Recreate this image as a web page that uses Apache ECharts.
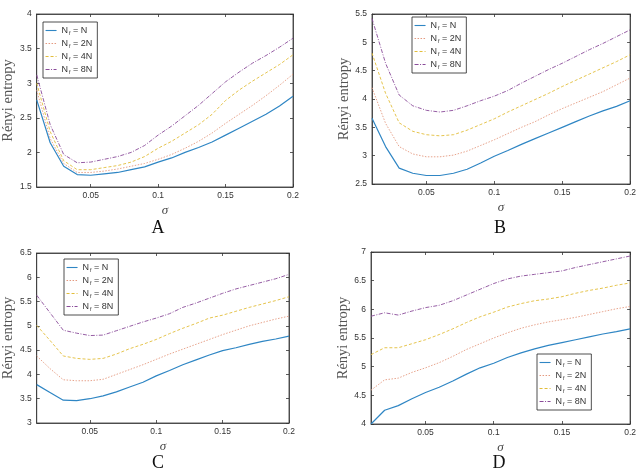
<!doctype html>
<html lang="en">
<head>
<meta charset="UTF-8">
<script src="https://cdn.jsdelivr.net/npm/echarts@6/dist/echarts.min.js"></script>
<title>Rényi entropy</title>
<style>
  html, body { margin: 0; padding: 0; background: #fff; }
  #main { width: 639px; height: 473px; }
</style>
</head>
<body>
<div id="main"></div>
<script>
// sigma values (x axis)
var sigma = [0.01, 0.02, 0.03, 0.04, 0.05, 0.06, 0.07, 0.08, 0.09, 0.10,
             0.11, 0.12, 0.13, 0.14, 0.15, 0.16, 0.17, 0.18, 0.19, 0.20];
var seriesNames = ['N_f = N', 'N_f = 2N', 'N_f = 4N', 'N_f = 8N'];
var panelLetters = ['A', 'B', 'C', 'D'];
var xTicks = [0.05, 0.1, 0.15, 0.2];

// panel A
var a_N  = [2.76, 2.14, 1.80, 1.68, 1.67, 1.69, 1.71, 1.75, 1.79, 1.86, 1.92, 2.00, 2.07, 2.15, 2.25, 2.35, 2.45, 2.55, 2.67, 2.81];
var a_2N = [2.90, 2.20, 1.84, 1.71, 1.71, 1.73, 1.76, 1.80, 1.84, 1.90, 1.97, 2.06, 2.16, 2.28, 2.42, 2.55, 2.68, 2.82, 2.97, 3.13];
var a_4N = [3.00, 2.30, 1.88, 1.75, 1.75, 1.78, 1.81, 1.86, 1.94, 2.06, 2.16, 2.28, 2.40, 2.55, 2.75, 2.90, 3.03, 3.15, 3.27, 3.41];
var a_8N = [3.12, 2.40, 1.97, 1.85, 1.86, 1.90, 1.94, 2.00, 2.10, 2.25, 2.38, 2.53, 2.68, 2.85, 3.02, 3.16, 3.29, 3.40, 3.52, 3.65];
// panel B
var b_N  = [3.66, 3.16, 2.78, 2.69, 2.65, 2.65, 2.69, 2.76, 2.87, 2.99, 3.09, 3.20, 3.30, 3.40, 3.50, 3.60, 3.70, 3.79, 3.87, 3.97];
var b_2N = [4.20, 3.57, 3.16, 3.03, 2.98, 2.98, 3.01, 3.08, 3.18, 3.28, 3.39, 3.50, 3.60, 3.72, 3.83, 3.93, 4.03, 4.13, 4.25, 4.37];
var b_4N = [4.81, 4.10, 3.58, 3.43, 3.37, 3.35, 3.37, 3.45, 3.55, 3.65, 3.77, 3.88, 3.99, 4.10, 4.22, 4.33, 4.44, 4.55, 4.66, 4.78];
var b_8N = [5.42, 4.63, 4.07, 3.88, 3.80, 3.77, 3.80, 3.88, 3.97, 4.05, 4.15, 4.28, 4.40, 4.52, 4.63, 4.75, 4.87, 4.98, 5.10, 5.22];
// panel C
var c_N  = [3.79, 3.63, 3.47, 3.46, 3.50, 3.56, 3.64, 3.74, 3.84, 3.97, 4.08, 4.20, 4.30, 4.40, 4.49, 4.55, 4.62, 4.68, 4.73, 4.79];
var c_2N = [4.38, 4.12, 3.89, 3.87, 3.87, 3.90, 4.00, 4.10, 4.20, 4.31, 4.42, 4.52, 4.62, 4.72, 4.82, 4.91, 5.00, 5.07, 5.14, 5.20];
var c_4N = [5.01, 4.70, 4.38, 4.33, 4.31, 4.33, 4.42, 4.53, 4.62, 4.72, 4.84, 4.95, 5.05, 5.16, 5.22, 5.30, 5.38, 5.45, 5.52, 5.60];
var c_8N = [5.63, 5.27, 4.91, 4.85, 4.80, 4.81, 4.90, 4.99, 5.08, 5.16, 5.25, 5.38, 5.47, 5.57, 5.67, 5.76, 5.83, 5.90, 5.97, 6.06];
// panel D
var d_N  = [4.00, 4.24, 4.32, 4.44, 4.55, 4.64, 4.75, 4.87, 4.98, 5.06, 5.16, 5.24, 5.31, 5.37, 5.42, 5.47, 5.52, 5.57, 5.61, 5.66];
var d_2N = [4.59, 4.77, 4.80, 4.90, 4.98, 5.07, 5.18, 5.30, 5.40, 5.50, 5.59, 5.67, 5.73, 5.78, 5.82, 5.86, 5.91, 5.96, 6.01, 6.05];
var d_4N = [5.21, 5.33, 5.33, 5.40, 5.47, 5.56, 5.66, 5.77, 5.87, 5.95, 6.04, 6.10, 6.15, 6.18, 6.22, 6.28, 6.33, 6.37, 6.42, 6.46];
var d_8N = [5.88, 5.94, 5.90, 5.97, 6.03, 6.07, 6.15, 6.25, 6.35, 6.45, 6.53, 6.58, 6.61, 6.64, 6.67, 6.73, 6.78, 6.83, 6.88, 6.93];

var yMin = [1.5, 2.5, 3, 4];
var yMax = [4, 5.5, 6.5, 7];

var panels = [[a_N, a_2N, a_4N, a_8N], [b_N, b_2N, b_4N, b_8N],
              [c_N, c_2N, c_4N, c_8N], [d_N, d_2N, d_4N, d_8N]];

var lineColors = ['#2f86c4', '#e49a80', '#e2bd3a', '#8a4c9a'];
var lineTypes = ['solid', [1.5, 1.5], [3, 2], [4, 1.5, 1, 1.5]];
var lineWidths = [1.2, 0.9, 0.9, 0.9];

var grids = [
    {left: 32, right: 346, top: 14, bottom: 286},
    {left: 372, right: 7, top: 14, bottom: 289},
    {left: 31, right: 350, top: 253, bottom: 50},
    {left: 371, right: 7, top: 252, bottom: 49}
];
var legendPos = [
    {left: 43, top: 22},
    {left: 412, top: 17},
    {left: 64, top: 259},
    {left: 537, top: 354}
];
var letterPos = [[153, 214], [495, 214], [153, 449], [494, 449]];

var axisColor = '#333';
var labelColor = '#333';

var option = {
    animation: false,
    backgroundColor: '#fff',
    grid: [], xAxis: [], yAxis: [], series: [], legend: [], title: []
};

for (var p = 0; p < 4; p++) {
    option.grid.push(Object.assign({
        show: true, borderColor: axisColor, borderWidth: 0.8, backgroundColor: '#fff'
    }, grids[p]));
    option.xAxis.push({
        type: 'value', gridIndex: p, min: 0.01, max: 0.2,
        name: 'σ', nameLocation: 'middle', nameGap: 17,
        nameTextStyle: {fontFamily: 'Liberation Serif', fontStyle: 'italic', fontSize: 13, color: '#444'},
        axisLine: {lineStyle: {color: axisColor, width: 0.8}},
        axisTick: {inside: true, length: 3, customValues: xTicks, lineStyle: {color: axisColor, width: 0.8}},
        axisLabel: {customValues: xTicks, fontSize: 8.5, color: labelColor, fontFamily: 'Liberation Sans', margin: 4,
                    showMinLabel: true, showMaxLabel: true},
        splitLine: {show: false}
    });
    option.yAxis.push({
        type: 'value', gridIndex: p, min: yMin[p], max: yMax[p], interval: 0.5,
        name: 'Rényi entropy', nameLocation: 'middle', nameGap: 19,
        nameTextStyle: {fontFamily: 'Liberation Serif', fontSize: 14.5, color: '#555'},
        axisLine: {lineStyle: {color: axisColor, width: 0.8}},
        axisTick: {inside: true, length: 3, lineStyle: {color: axisColor, width: 0.8}},
        axisLabel: {fontSize: 8.5, color: labelColor, fontFamily: 'Liberation Sans', margin: 5,
                    showMinLabel: true, showMaxLabel: true},
        splitLine: {show: false}
    });
}
// mirrored ticks on top and right edges
for (var p = 0; p < 4; p++) {
    option.xAxis.push({
        type: 'value', gridIndex: p, min: 0.01, max: 0.2, position: 'top',
        axisLine: {lineStyle: {color: axisColor, width: 0.8}},
        axisTick: {inside: true, length: 3, customValues: xTicks, lineStyle: {color: axisColor, width: 0.8}},
        axisLabel: {show: false}, splitLine: {show: false}
    });
    option.yAxis.push({
        type: 'value', gridIndex: p, min: yMin[p], max: yMax[p], interval: 0.5, position: 'right',
        axisLine: {lineStyle: {color: axisColor, width: 0.8}},
        axisTick: {inside: true, length: 3, lineStyle: {color: axisColor, width: 0.8}},
        axisLabel: {show: false}, splitLine: {show: false}
    });
}

for (var p = 0; p < 4; p++) {
    for (var s = 0; s < 4; s++) {
        var vals = panels[p][s];
        var pts = [];
        for (var i = 0; i < sigma.length; i++) pts.push([sigma[i], vals[i]]);
        option.series.push({
            name: seriesNames[s], type: 'line', xAxisIndex: p, yAxisIndex: p,
            data: pts, symbol: 'none', smooth: false, z: 2 + s,
            lineStyle: {color: lineColors[s], width: lineWidths[s], type: lineTypes[s]},
            itemStyle: {color: lineColors[s]}
        });
    }
    option.legend.push(Object.assign({
        orient: 'vertical', data: seriesNames, selectedMode: false,
        backgroundColor: '#fff', borderColor: '#222', borderWidth: 0.8,
        padding: [4, 5, 3, 2], itemGap: 3, itemWidth: 11, itemHeight: 9,
        itemStyle: {opacity: 0},
        lineStyle: {width: 1.1, color: 'inherit', type: 'inherit'},
        formatter: function (name) {
            return '{a|N}{s|f}{a|' + name.substring(3) + '}';
        },
        textStyle: {
            fontSize: 9, color: '#333', fontFamily: 'Liberation Sans',
            rich: {
                a: {fontSize: 9, color: '#333', fontFamily: 'Liberation Sans'},
                s: {fontSize: 5.5, color: '#333', fontFamily: 'Liberation Sans', padding: [5, 0, 0, 1]}
            }
        }
    }, legendPos[p]));
    option.title.push({
        text: panelLetters[p], left: letterPos[p][0], top: letterPos[p][1], textAlign: 'center',
        textStyle: {fontFamily: 'Liberation Serif', fontSize: 18, fontWeight: 'normal', color: '#111'}
    });
}

var myChart = echarts.init(document.getElementById('main'));
myChart.setOption(option);
</script>
</body>
</html>
